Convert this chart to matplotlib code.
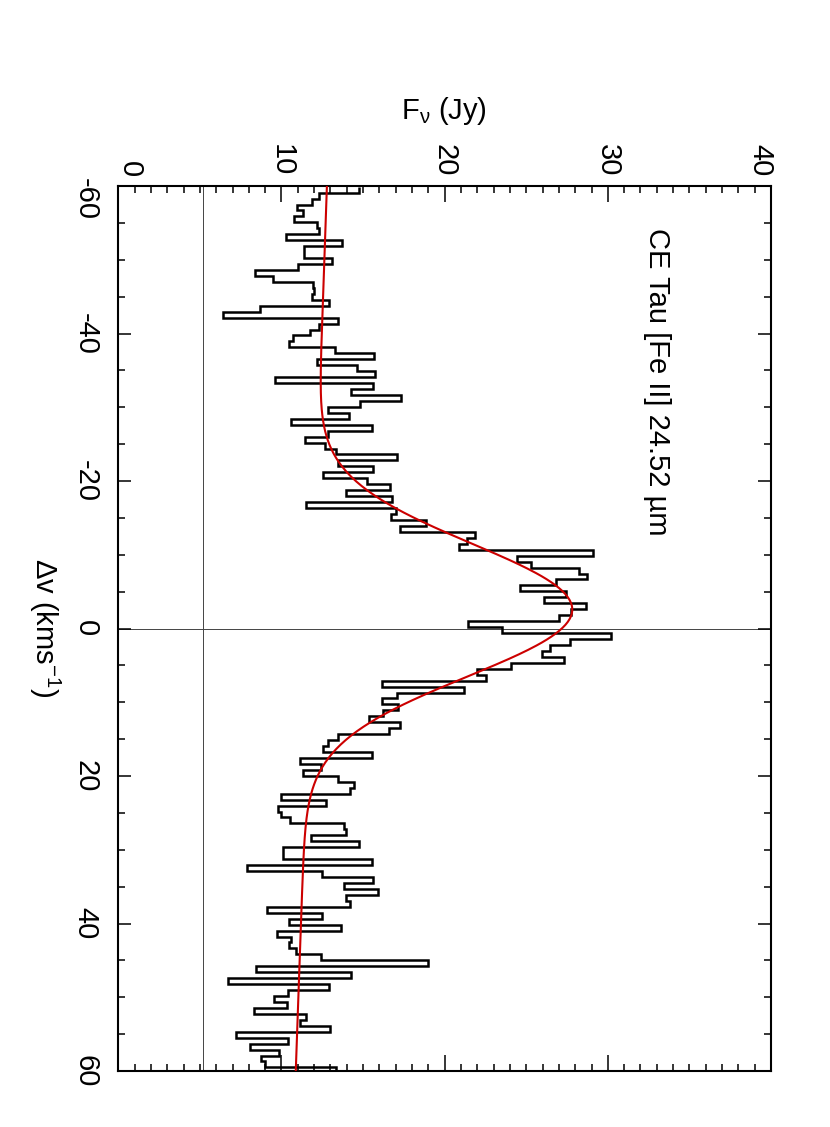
import numpy as np
import matplotlib
matplotlib.use("Agg")
import matplotlib.pyplot as plt
from matplotlib import font_manager
from matplotlib.ticker import MultipleLocator
from matplotlib.transforms import blended_transform_factory

# ---------------- data ----------------
v_start = -59.92          # km/s, lower edge of first channel
v_step = 0.807            # km/s, channel width
flux = [
    14.76, 12.31, 11.90, 10.98, 11.33, 10.74, 12.19, 12.31, 10.29, 13.68,
    11.39, 11.39, 13.11, 11.00, 8.35, 9.47, 11.94, 12.02, 11.88, 12.94,
    8.68, 6.43, 13.47, 12.31, 11.74, 10.72, 10.47, 13.27, 15.66, 12.19,
    14.64, 15.74, 9.61, 15.58, 14.29, 17.33, 14.80, 12.84, 14.13, 10.58,
    15.52, 12.86, 11.47, 12.68, 13.37, 17.05, 13.45, 15.58, 12.54, 15.27,
    16.66, 13.98, 16.80, 11.49, 17.00, 16.74, 18.88, 17.29, 21.84, 21.37,
    20.86, 29.09, 24.43, 25.27, 28.21, 28.72, 26.80, 24.60, 27.42, 26.09,
    28.68, 27.76, 26.99, 21.43, 23.53, 30.21, 27.66, 26.48, 25.99, 27.31,
    24.09, 22.01, 22.56, 16.13, 21.19, 17.09, 16.17, 17.15, 16.23, 15.37,
    17.25, 16.60, 13.47, 12.86, 12.55, 15.55, 11.13, 12.45, 11.33, 13.47,
    14.43, 14.23, 10.00, 12.70, 9.80, 9.97, 10.53, 13.85, 13.93, 11.84,
    14.76, 10.10, 10.07, 15.54, 7.90, 12.47, 15.62, 13.82, 15.92, 13.98,
    14.19, 9.09, 12.51, 10.47, 13.66, 9.74, 10.56, 10.47, 10.86, 12.45,
    18.98, 8.43, 14.29, 6.74, 12.92, 10.43, 9.53, 10.31, 8.31, 11.49,
    11.13, 13.00, 7.21, 10.41, 8.06, 9.84, 8.72, 8.98, 13.33,
]
# Gaussian + linear continuum fit parameters
fit_cont0 = 11.83       # Jy at v = 0
fit_slope = -0.0159     # Jy per km/s
fit_amp = 15.95         # Jy
fit_center = -2.5       # km/s
fit_sigma = 9.0         # km/s

ref_flux = 5.17         # vertical reference line (Jy)
ref_vel = 0.0           # horizontal reference line (km/s)

flux_ticks = [0, 10, 20, 30, 40]
vel_ticks = [-60, -40, -20, 0, 20, 40, 60]
title_text = "CE Tau [Fe II] 24.52 µm"

# ---------------- fonts ----------------
avail = {f.name for f in font_manager.fontManager.ttflist}
FONT = "Liberation Sans Narrow" if "Liberation Sans Narrow" in avail else "Liberation Sans"
plt.rcParams["font.family"] = [FONT, "DejaVu Sans"]
plt.rcParams["mathtext.fontset"] = "custom"
plt.rcParams["mathtext.rm"] = FONT
plt.rcParams["mathtext.it"] = FONT
plt.rcParams["mathtext.bf"] = FONT
FS = 21

W, H = 830, 1127
fig = plt.figure(figsize=(W / 100, H / 100), dpi=100)
L, R, T, B = 118.3, 771.0, 186.1, 1071.0
ax = fig.add_axes([L / W, 1 - B / H, (R - L) / W, (B - T) / H])

flux = np.array(flux)
edges = v_start + v_step * np.arange(len(flux) + 1)
ax.stairs(flux, edges, orientation="horizontal", color="black", lw=1.8,
          baseline=None, zorder=3)

vv = np.linspace(-60, 60, 600)
model = fit_cont0 + fit_slope * vv + fit_amp * np.exp(-0.5 * ((vv - fit_center) / fit_sigma) ** 2)
ax.plot(model, vv, color="#cc0000", lw=1.5, zorder=4)

ax.axvline(ref_flux, color="#444444", lw=0.7, zorder=1)
ax.axhline(ref_vel, color="#444444", lw=0.7, zorder=1)

ax.set_xlim(0, 40)
ax.set_ylim(60, -60)

ax.xaxis.set_major_locator(MultipleLocator(10))
ax.xaxis.set_minor_locator(MultipleLocator(1))
ax.yaxis.set_major_locator(MultipleLocator(20))
ax.yaxis.set_minor_locator(MultipleLocator(5))
ax.tick_params(which="both", direction="in", top=True, bottom=True, left=True,
               right=True, labelleft=False, labelbottom=False, width=1.1,
               color="black")
ax.tick_params(axis="x", which="major", length=11.5)
ax.tick_params(axis="x", which="minor", length=4.7)
ax.tick_params(axis="y", which="major", length=9.4)
ax.tick_params(axis="y", which="minor", length=4.8)
for s in ax.spines.values():
    s.set_linewidth(1.5)

axw, axh = R - L, B - T
# top (flux) tick labels
tr_x = blended_transform_factory(ax.transData, ax.transAxes)
x_shift = {0: 12.0, 40: -11.0}
for f in flux_ticks:
    dx = x_shift.get(f, 0.0) / axw * 40
    ax.text(f + dx, 1 + 9.4 / axh, str(f), transform=tr_x, rotation=-90,
            ha="center", va="bottom", fontsize=FS)
# left (velocity) tick labels
tr_y = blended_transform_factory(ax.transAxes, ax.transData)
y_shift = {-60: 13.0}
for v in vel_ticks:
    dv = y_shift.get(v, 0.0) / axh * 120
    ax.text(-32.8 / axw, v + dv, str(v), transform=tr_y, rotation=-90,
            ha="center", va="center", fontsize=FS)

# axis labels
fig.text(444 / W, 1 - 111 / H, r"F$_{\mathrm{ν}}$ (Jy)", ha="center", va="center",
         fontsize=FS)
fig.text(45 / W, 1 - 628 / H, r"Δv (kms$^{\mathrm{-1}}$)", rotation=-90,
         ha="center", va="center", fontsize=FS)
# title inside plot
fig.text(657 / W, 1 - 228 / H, title_text, rotation=-90, ha="center", va="top",
         fontsize=FS)

fig.savefig("out.png", dpi=100)
